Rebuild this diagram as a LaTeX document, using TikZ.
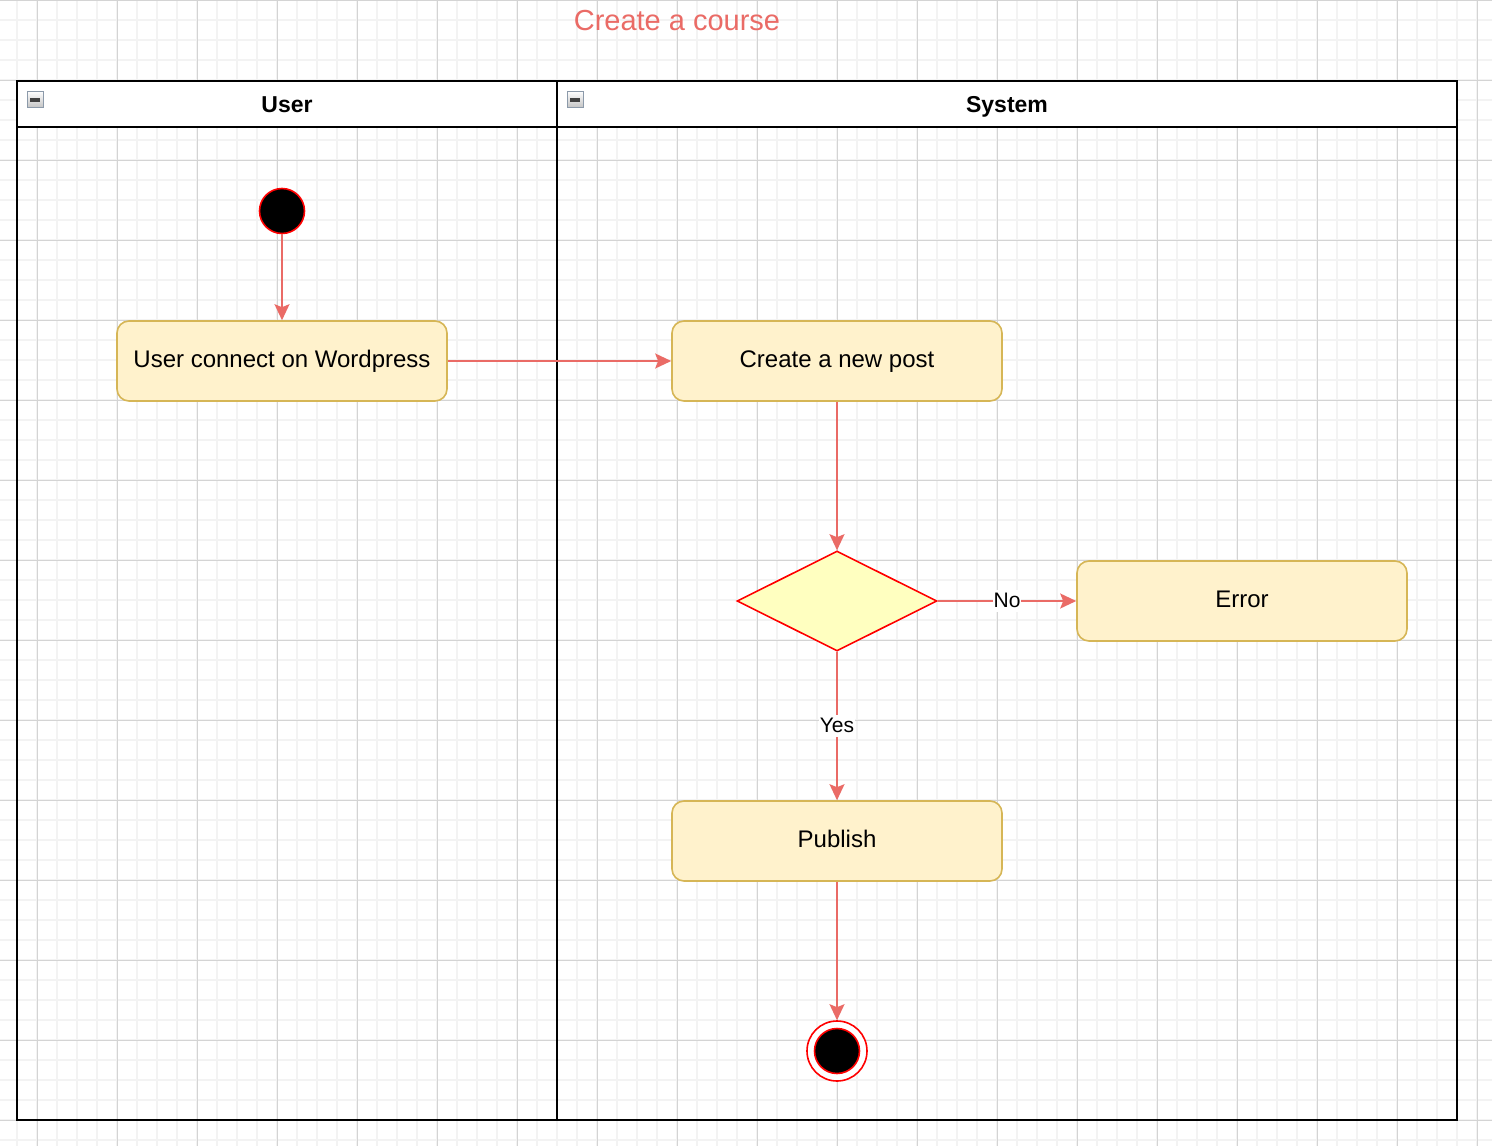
\documentclass[tikz,border=0pt]{standalone}
\usepackage{fontspec}
\setmainfont{Liberation Sans}
\usetikzlibrary{shapes.geometric,arrows.meta}
\definecolor{edgered}{HTML}{EA6B66}
\definecolor{actfill}{HTML}{FFF2CC}
\definecolor{actline}{HTML}{D6B656}
\definecolor{decfill}{HTML}{FFFFC0}
\definecolor{gridminor}{HTML}{F3F3F3}
\definecolor{gridmajor}{HTML}{D4D4D4}
\definecolor{iconline}{HTML}{8C9AAA}
\begin{document}
\begin{tikzpicture}[x=1pt,y=-1pt,
  activity/.style={draw=actline, fill=actfill, line width=1.6pt, rounded corners=12pt,
    minimum width=330pt, minimum height=80pt, inner sep=0pt,
    text height=17.5pt, text depth=4.5pt,
    font=\fontsize{24}{28}\selectfont},
  decision/.style={diamond, draw=red, fill=decfill, line width=1.6pt,
    minimum width=200pt, minimum height=100pt, inner sep=0pt},
  startnode/.style={circle, draw=red, fill=black, line width=1.6pt,
    minimum size=45pt, inner sep=0pt},
  endring/.style={circle, draw=red, fill=white, line width=1.6pt,
    minimum size=60pt, inner sep=0pt},
  edge/.style={draw=edgered, line width=1.8pt,
    -{Stealth[length=16pt,width=15pt,inset=3pt]}},
  lbl/.style={fill=white, inner sep=1pt, text height=16pt, text depth=4pt,
    font=\fontsize{21}{24}\selectfont},
  lanetitle/.style={anchor=base, font=\bfseries\fontsize{23}{28}\selectfont},
  lanebox/.style={draw=black, line width=2pt},
  collapse/.style={draw=iconline, line width=0.8pt, top color=white, bottom color=gray!45}
]
% canvas
\useasboundingbox (0,0) rectangle (1492,1146);
\fill[white] (0,0) rectangle (1492,1146);

% background grid
\foreach \gx in {17,37,...,1492} \draw[gridminor, line width=1.4pt] (\gx,0) -- (\gx,1146);
\foreach \gy in {0,20,...,1146} \draw[gridminor, line width=1.4pt] (0,\gy) -- (1492,\gy);
\foreach \gx in {37,117,...,1492} \draw[gridmajor, line width=1pt] (\gx,0) -- (\gx,1146);
\foreach \gy in {0,80,...,1146} \draw[gridmajor, line width=1pt] (0,\gy) -- (1492,\gy);

% title
\node[anchor=base, text=edgered, font=\fontsize{29}{32}\selectfont] (title) at (677,30) {Create a course};

% swimlanes
\fill[white] (17,81) rectangle (1457,127);
\draw[lanebox] (17,81) rectangle (1457,1120);
\draw[lanebox] (17,127) -- (1457,127);
\draw[lanebox] (557,81) -- (557,1120);
\node[lanetitle] (userhead) at (287,112) {User};
\node[lanetitle] (syshead) at (1007,112) {System};

% collapse buttons
\foreach \ix in {27,567} {
  \draw[collapse] (\ix,91) rectangle ++(16,16);
  \fill[black!75] (\ix+3,97.5) rectangle ++(10,4);
}

% activity nodes
\node[startnode] (start) at (282,211) {};
\node[activity] (user) at (282,361) {User connect on Wordpress};
\node[activity] (post) at (837,361) {Create a new post};
\node[decision] (dec) at (837,601) {};
\node[activity] (err) at (1242,601) {Error};
\node[activity] (pub) at (837,841) {Publish};
\node[endring] (stop) at (837,1051) {};
\node[startnode] (stopdot) at (837,1051) {};

% flows
\draw[edge] (start) -- (user);
\draw[edge] (user) -- (post);
\draw[edge] (post) -- (dec);
\draw[edge] (dec) -- node[lbl] {No} (err);
\draw[edge] (dec) -- node[lbl] {Yes} (pub);
\draw[edge] (pub) -- (stop);
\end{tikzpicture}
\end{document}
